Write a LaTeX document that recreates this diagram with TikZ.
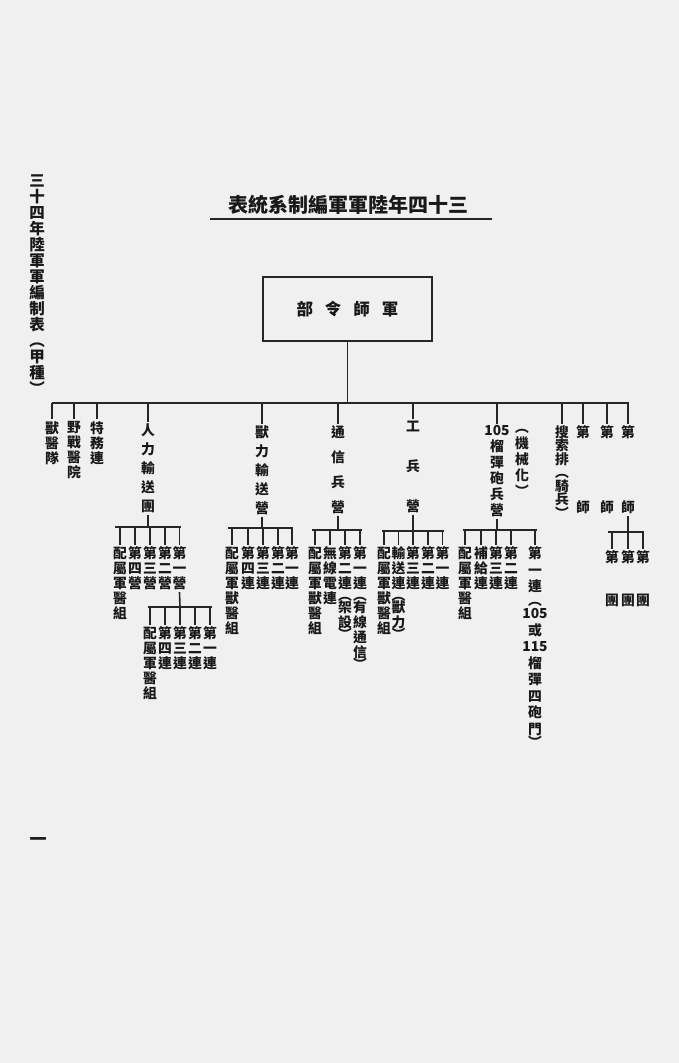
\documentclass[tikz,border=0pt]{standalone}
\usepackage{fontspec}
\newfontfamily\cjk{Noto Sans CJK TC}
\begin{document}
\begin{tikzpicture}[
    x=1pt, y=-1pt,
    unit/.style={anchor=north, inner xsep=0pt, inner ysep=2pt, align=center, text=black!90, font=\cjk\bfseries\fontsize{13.8}{15}\selectfont},
    loose/.style={unit, font=\cjk\bfseries\fontsize{13.8}{19}\selectfont},
    bus/.style={line width=2.6pt, black!85},
    drop/.style={line width=1.6pt, black!85},
]
    \fill[gray!12] (0,0) rectangle (679,1063);
    \useasboundingbox (0,0) rectangle (679,1063);

    % side title and page number
    \node[unit, font=\cjk\bfseries\fontsize{15.5}{16}\selectfont] (sidetitle) at (37,173) {三\\十\\四\\年\\陸\\軍\\軍\\編\\制\\表\\︵\\甲\\種\\︶};
    \node[text=black!90, font=\cjk\bfseries\fontsize{17}{18}\selectfont] (pagenum) at (38,842) {一};

    % title
    \node[inner sep=0pt, text=black!90, font=\cjk\bfseries\fontsize{20}{22}\selectfont] (title) at (348,205) {表統系制編軍軍陸年四十三};
    \draw[line width=2pt, black!85] (210,219) -- (492,219);

    % headquarters
    \node[draw=black!85, line width=2pt, minimum width=169pt, minimum height=64pt, text=black!90, font=\cjk\bfseries\fontsize{16.5}{18}\selectfont] (hq) at (347.5,309) {部\hspace{12pt}令\hspace{12pt}師\hspace{12pt}軍};

    \coordinate (mainL) at (52,403);
    \coordinate (mainR) at (629,403);
    \draw[bus] (mainL) -- (mainR);
    \draw[drop] (hq.south) -- (hq.south |- mainL);

    % units under the army
    \node[unit] (vetunit) at (52,419) {獸\\醫\\隊};
    \node[unit] (fieldhosp) at (74,419) {野\\戰\\醫\\院};
    \node[unit] (special) at (97,419) {特\\務\\連};
    \node[loose] (porter) at (148,421.5) {人\\力\\輸\\送\\團};
    \node[loose] (animal) at (262,423.5) {獸\\力\\輸\\送\\營};
    \node[unit, font=\cjk\bfseries\fontsize{13.8}{25}\selectfont] (signal) at (338,423.5) {通\\信\\兵\\營};
    \node[unit, font=\cjk\bfseries\fontsize{13.8}{40}\selectfont] (engineer) at (413,418.5) {工\\兵\\營};
    \node[unit, font=\cjk\bfseries\fontsize{13.8}{16}\selectfont] (howitzer) at (497,423.5) {105\\榴\\彈\\砲\\兵\\營};
    \node[unit, font=\cjk\bfseries\fontsize{13.8}{16}\selectfont] (mech) at (522,427) {︵\\機\\械\\化\\︶};
    \node[unit, font=\cjk\bfseries\fontsize{13.8}{13.5}\selectfont] (recon) at (562,423.5) {搜\\索\\排\\︵\\騎\\兵\\︶};
    \node[unit] (divA) at (583,423.5) {第\\[60pt]師};
    \node[unit] (divB) at (607,423.5) {第\\[60pt]師};
    \node[unit] (divC) at (628,423.5) {第\\[60pt]師};
    \foreach \n in {vetunit,fieldhosp,special,porter,animal,signal,engineer,howitzer,recon,divA,divB,divC}
        \draw[drop] (\n.north) -- (\n.north |- mainL);

    % porter regiment
    \coordinate (porterBus) at (148,527);
    \node[unit] (porterMed) at (120,544.5) {配\\屬\\軍\\醫\\組};
    \node[unit] (porterB4) at (135,544.5) {第\\四\\營};
    \node[unit] (porterB3) at (150,544.5) {第\\三\\營};
    \node[unit] (porterB2) at (165,544.5) {第\\二\\營};
    \node[unit] (porterB1) at (179.5,544.5) {第\\一\\營};
    \draw[drop] (porter.south) -- (porterBus);
    \draw[bus] ([xshift=-5pt]porterMed.north |- porterBus) -- ([xshift=1.5pt]porterB1.north |- porterBus);
    \foreach \n in {porterMed,porterB4,porterB3,porterB2,porterB1}
        \draw[drop] (\n.north) -- (\n.north |- porterBus);

    % first battalion
    \coordinate (battBus) at (180,607);
    \node[unit] (battMed) at (150,624.5) {配\\屬\\軍\\醫\\組};
    \node[unit] (battC4) at (165,624.5) {第\\四\\連};
    \node[unit] (battC3) at (180,624.5) {第\\三\\連};
    \node[unit] (battC2) at (195,624.5) {第\\二\\連};
    \node[unit] (battC1) at (210,624.5) {第\\一\\連};
    \draw[drop] (porterB1.south) -- (battBus);
    \draw[bus] ([xshift=-2pt]battMed.north |- battBus) -- ([xshift=2pt]battC1.north |- battBus);
    \foreach \n in {battMed,battC4,battC3,battC2,battC1}
        \draw[drop] (\n.north) -- (\n.north |- battBus);

    % animal transport battalion
    \coordinate (animalBus) at (262,528);
    \node[unit] (animalMed) at (232,544.5) {配\\屬\\軍\\獸\\醫\\組};
    \node[unit] (animalC4) at (248,544.5) {第\\四\\連};
    \node[unit] (animalC3) at (263,544.5) {第\\三\\連};
    \node[unit] (animalC2) at (278,544.5) {第\\二\\連};
    \node[unit] (animalC1) at (292,544.5) {第\\一\\連};
    \draw[drop] (animal.south) -- (animalBus);
    \draw[bus] ([xshift=-4pt]animalMed.north |- animalBus) -- ([xshift=1pt]animalC1.north |- animalBus);
    \foreach \n in {animalMed,animalC4,animalC3,animalC2,animalC1}
        \draw[drop] (\n.north) -- (\n.north |- animalBus);

    % signal battalion
    \coordinate (signalBus) at (338,530);
    \node[unit] (signalMed) at (315,544.5) {配\\屬\\軍\\獸\\醫\\組};
    \node[unit] (signalRadio) at (330,544.5) {無\\線\\電\\連};
    \node[unit] (signalC2) at (345,544.5) {第\\二\\連\\[-3pt]︵\\[-3pt]架\\設\\[-3pt]︶};
    \node[unit] (signalC1) at (360,544.5) {第\\一\\連\\[-3pt]︵\\[-3pt]有\\線\\通\\信\\[-3pt]︶};
    \draw[drop] (signal.south) -- (signalBus);
    \draw[bus] ([xshift=-3pt]signalMed.north |- signalBus) -- ([xshift=2pt]signalC1.north |- signalBus);
    \foreach \n in {signalMed,signalRadio,signalC2,signalC1}
        \draw[drop] (\n.north) -- (\n.north |- signalBus);

    % engineer battalion
    \coordinate (engBus) at (413,531);
    \node[unit] (engMed) at (384,544.5) {配\\屬\\軍\\獸\\醫\\組};
    \node[unit] (engTrans) at (398.5,544.5) {輸\\送\\連\\[-3pt]︵\\[-3pt]獸\\力\\[-3pt]︶};
    \node[unit] (engC3) at (413,544.5) {第\\三\\連};
    \node[unit] (engC2) at (428,544.5) {第\\二\\連};
    \node[unit] (engC1) at (442.5,544.5) {第\\一\\連};
    \draw[drop] (engineer.south) -- (engBus);
    \draw[bus] ([xshift=-2pt]engMed.north |- engBus) -- ([xshift=1pt]engC1.north |- engBus);
    \foreach \n in {engMed,engTrans,engC3,engC2,engC1}
        \draw[drop] (\n.north) -- (\n.north |- engBus);

    % howitzer battalion
    \coordinate (howBus) at (497,530);
    \node[unit] (howMed) at (465,544.5) {配\\屬\\軍\\醫\\組};
    \node[unit] (howSupply) at (481,544.5) {補\\給\\連};
    \node[unit] (howC3) at (496,544.5) {第\\三\\連};
    \node[unit] (howC2) at (511,544.5) {第\\二\\連};
    \node[unit, font=\cjk\bfseries\fontsize{13.8}{16.5}\selectfont] (howC1) at (535,544.5) {第\\一\\連\\[-3pt]︵\\[-3pt]105\\或\\115\\榴\\彈\\四\\砲\\門\\[-3pt]︶};
    \draw[drop] (howitzer.south) -- (howBus);
    \draw[bus] ([xshift=-2pt]howMed.north |- howBus) -- ([xshift=2pt]howC1.north |- howBus);
    \foreach \n in {howMed,howSupply,howC3,howC2,howC1}
        \draw[drop] (\n.north) -- (\n.north |- howBus);

    % division regiments
    \coordinate (divBus) at (628,532);
    \node[unit] (regA) at (612,548.5) {第\\[28pt]團};
    \node[unit] (regB) at (628,548.5) {第\\[28pt]團};
    \node[unit] (regC) at (643,548.5) {第\\[28pt]團};
    \draw[drop] (divC.south) -- (divBus);
    \draw[bus] ([xshift=-4pt]regA.north |- divBus) -- ([xshift=1pt]regC.north |- divBus);
    \foreach \n in {regA,regB,regC}
        \draw[drop] (\n.north) -- (\n.north |- divBus);
\end{tikzpicture}
\end{document}
